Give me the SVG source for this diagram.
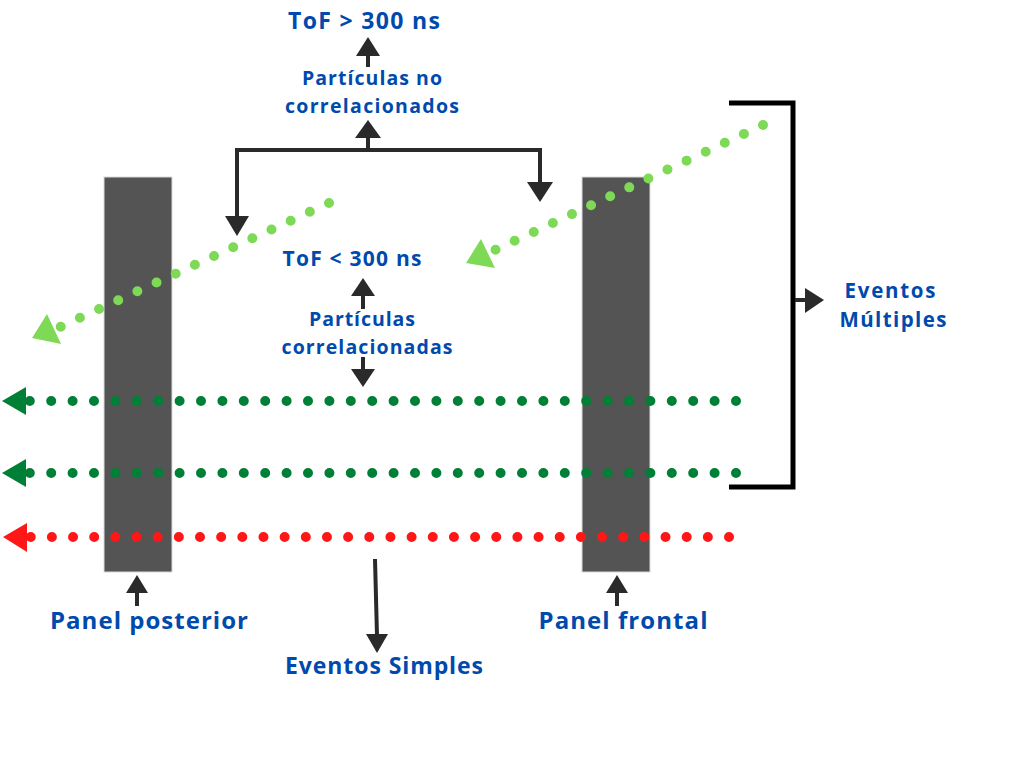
<svg xmlns="http://www.w3.org/2000/svg" width="1024" height="768" viewBox="0 0 1024 768">
<style>
.t{font-family:"Open Sans","Liberation Sans",sans-serif;font-weight:700;fill:#004aad;text-anchor:middle}
.panel{fill:#545454;stroke:#d9d9d9;stroke-width:1}
.dk{stroke:#2a2a2a;stroke-width:4;fill:none}
.ah{fill:#2a2a2a}
.bk{stroke:#000;stroke-width:5;fill:none}
.dot{fill:none;stroke-width:10;stroke-linecap:round}
</style>
<rect width="1024" height="768" fill="#fff"/>
<g id="panel-posterior"><rect class="panel" x="104" y="177" width="68" height="395"/></g>
<g id="panel-frontal"><rect class="panel" x="582" y="177" width="68" height="395"/></g>
<g id="tracks">
<path class="dot" stroke="#7ed957" stroke-dasharray="0 21.1" d="M329,203 L60,327"/>
<polygon fill="#7ed957" points="32,338 61,344 47,314"/>
<path class="dot" stroke="#7ed957" stroke-dasharray="0 21.08" d="M763,125 L495,250"/>
<polygon fill="#7ed957" points="466,263 495,268 481,239"/>
<path class="dot" stroke="#008037" stroke-dasharray="0 21.4" d="M736,401 L29,401"/>
<polygon fill="#008037" points="2,401 26,387 26,415"/>
<path class="dot" stroke="#008037" stroke-dasharray="0 21.4" d="M736,473 L29,473"/>
<polygon fill="#008037" points="2,473 26,459 26,487"/>
<path class="dot" stroke="#ff1616" stroke-dasharray="0 21.16" d="M729,537 L30,537"/>
<polygon fill="#ff1616" points="3,537 27,523 27,552"/>
</g>
<g id="connectors">
<path class="dk" d="M237,218 L237,150 L540,150 L540,184"/>
<polygon class="ah" points="225,216 249,216 237,236"/>
<polygon class="ah" points="527,182 553,182 540,202"/>
<path class="dk" d="M368,150 L368,136"/>
<polygon class="ah" points="355,138 381,138 368,120"/>
<path class="dk" d="M368,67 L368,54"/>
<polygon class="ah" points="356,56 380,56 368,37"/>
<path class="dk" d="M363,309 L363,294"/>
<polygon class="ah" points="351,296 375,296 363,278"/>
<path class="dk" d="M363,357 L363,371"/>
<polygon class="ah" points="351,369 375,369 363,387"/>
<path class="dk" d="M137,606 L137,591"/>
<polygon class="ah" points="126,593 148,593 137,575"/>
<path class="dk" d="M617,606 L617,591"/>
<polygon class="ah" points="606,593 628,593 617,575"/>
<path class="dk" d="M375,559 L377,636"/>
<polygon class="ah" points="366,634 388,634 377,653"/>
<path class="bk" d="M729,103 L793,103 L793,487 L729,487"/>
<path class="dk" d="M795,300 L807,300"/>
<polygon class="ah" points="805,288 824,300 805,313"/>
</g>
<g id="labels">
<text class="t" x="364" y="29" font-size="23" textLength="152" lengthAdjust="spacing">ToF &gt; 300 ns</text>
<text class="t" x="372" y="85" font-size="19.5" textLength="140" lengthAdjust="spacing">Partículas no</text>
<text class="t" x="372" y="113" font-size="19.5" textLength="174" lengthAdjust="spacing">correlacionados</text>
<text class="t" x="352" y="266" font-size="21" textLength="139" lengthAdjust="spacing">ToF &lt; 300 ns</text>
<text class="t" x="362" y="326" font-size="19.5" textLength="106" lengthAdjust="spacing">Partículas</text>
<text class="t" x="367" y="354" font-size="19.5" textLength="171" lengthAdjust="spacing">correlacionadas</text>
<text class="t" x="890" y="298" font-size="20.5" textLength="91" lengthAdjust="spacing">Eventos</text>
<text class="t" x="893" y="327" font-size="20.5" textLength="107" lengthAdjust="spacing">Múltiples</text>
<text class="t" x="149" y="629" font-size="24" textLength="198" lengthAdjust="spacing">Panel posterior</text>
<text class="t" x="623" y="629" font-size="24" textLength="169" lengthAdjust="spacing">Panel frontal</text>
<text class="t" x="384" y="674" font-size="23" textLength="198" lengthAdjust="spacing">Eventos Simples</text>
</g>
</svg>
